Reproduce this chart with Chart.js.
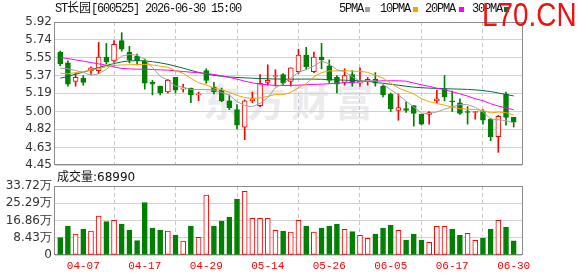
<!DOCTYPE html>
<html><head><meta charset="utf-8">
<script src="https://cdn.jsdelivr.net/npm/chart.js@4/dist/chart.umd.min.js"></script>
<style>
html,body{margin:0;padding:0;background:#fff;width:578px;height:276px;overflow:hidden;}
#wrap{position:relative;width:578px;height:276px;}
canvas{position:absolute;left:0;}
#cPrice{top:0;}
#cVol{top:166px;}
.t{position:absolute;white-space:nowrap;}
.mono{font-family:"Liberation Mono","Noto Sans CJK SC",monospace;font-size:12px;letter-spacing:-1.2px;line-height:14px;color:#111;}
.sq{position:absolute;width:5px;height:5px;top:7px;}
#wm{left:203px;top:72px;font:bold 38px "Noto Sans CJK SC";color:#ebebee;letter-spacing:6px;}
#l70{left:482px;top:-5px;font:34px "Liberation Sans";color:#f01010;transform:scaleX(0.82);transform-origin:0 0;}
#vlab{left:57px;top:170px;font:12px "DejaVu Sans","Noto Sans CJK SC";color:#111;line-height:14px;}
</style></head><body><div id="wrap">
<div class="t" id="wm">东方财富</div>
<canvas id="cPrice" width="578" height="180" style="width:578px;height:180px"></canvas>
<canvas id="cVol" width="578" height="110" style="width:578px;height:110px"></canvas>
<div class="t mono" style="left:55px;top:2px;">ST<span style="letter-spacing:0">长园</span>[600525] 2026-06-30 15:00</div>
<div class="t mono" style="left:339px;top:2px;">5PMA</div><div class="sq" style="left:365px;background:#a0a0a0"></div>
<div class="t mono" style="left:380px;top:2px;">10PMA</div><div class="sq" style="left:413px;background:#f5a300"></div>
<div class="t mono" style="left:425px;top:2px;">20PMA</div><div class="sq" style="left:459px;background:#ff00ff"></div>
<div class="t mono" style="left:472px;top:2px;">30PMA</div><div class="sq" style="left:504px;background:#006f3c"></div>
<div class="t" id="l70">L70.CN</div>
<div class="t" id="vlab">成交量:68990</div>
</div>
<script>
const dates = ['04-01','04-02','04-03','04-07','04-08','04-09','04-10','04-13','04-14','04-15','04-16','04-17','04-20','04-21','04-22','04-23','04-24','04-27','04-28','04-29','04-30',
 '05-06','05-07','05-08','05-11','05-12','05-13','05-14','05-15','05-18','05-19','05-20','05-21','05-22','05-25','05-26','05-27','05-28','05-29',
 '06-01','06-02','06-03','06-04','06-05','06-08','06-09','06-10','06-11','06-12','06-15','06-16','06-17','06-18','06-22','06-23','06-24','06-25','06-26','06-29','06-30'];
const tickDates = ['04-07','04-17','04-29','05-14','05-26','06-05','06-17','06-30'];
const open  = [5.61,5.50,5.31,5.34,5.42,5.42,5.56,5.52,5.73,5.61,5.57,5.52,5.30,5.26,5.20,5.35,5.23,5.24,5.17,5.42,5.25,5.22,5.11,5.02,4.84,5.11,5.06,5.30,5.36,5.38,5.31,5.41,5.58,5.41,5.56,5.47,5.35,5.30,5.38,5.29,5.31,5.33,5.26,5.18,5.01,5.03,5.06,4.97,4.97,5.11,5.23,5.11,5.09,5.00,4.99,5.00,4.92,4.74,5.18,4.94];
const high  = [5.62,5.52,5.39,5.37,5.46,5.71,5.70,5.73,5.81,5.67,5.59,5.54,5.32,5.26,5.33,5.35,5.28,5.24,5.20,5.44,5.30,5.24,5.17,5.07,5.12,5.20,5.38,5.48,5.43,5.39,5.45,5.64,5.66,5.61,5.70,5.53,5.37,5.44,5.42,5.45,5.35,5.40,5.27,5.19,5.18,5.10,5.06,4.97,5.00,5.22,5.37,5.21,5.13,5.05,5.00,5.02,4.93,4.96,5.20,4.94];
const low   = [5.47,5.26,5.26,5.27,5.38,5.39,5.49,5.49,5.62,5.50,5.48,5.23,5.17,5.17,5.19,5.19,5.20,5.09,5.11,5.29,5.18,5.10,5.02,4.82,4.71,5.09,5.05,5.27,5.26,5.27,5.26,5.39,5.43,5.40,5.44,5.29,5.19,5.27,5.26,5.26,5.27,5.26,5.15,5.00,4.91,4.99,4.85,4.86,4.87,5.09,5.11,5.00,4.97,4.87,4.92,4.87,4.70,4.58,4.86,4.84];
const close = [5.49,5.28,5.35,5.30,5.45,5.56,5.51,5.69,5.64,5.53,5.52,5.29,5.28,5.19,5.32,5.22,5.24,5.17,5.18,5.32,5.20,5.11,5.04,4.86,5.11,5.13,5.29,5.32,5.37,5.29,5.45,5.58,5.46,5.56,5.53,5.32,5.28,5.37,5.29,5.31,5.33,5.29,5.17,5.03,5.04,5.01,4.98,4.87,4.99,5.13,5.15,5.10,4.98,4.99,5.00,4.91,4.74,4.95,4.94,4.89];
const volume = [84700,141700,102600,127000,117300,190600,162900,169400,151500,122200,70000,255800,132000,122200,117300,97700,68400,141700,86300,293200,141700,166200,185700,273700,311100,179200,179200,179200,120500,117300,112400,169400,141700,112400,132000,141700,151500,125400,114000,96100,81500,102600,132000,146600,120500,73300,102600,73300,61900,140100,140100,127000,96100,105900,71700,83100,127000,169400,136800,68990];
const ma5  = [5.445,5.439,5.421,5.401,5.373,5.387,5.433,5.501,5.569,5.586,5.579,5.535,5.454,5.363,5.321,5.260,5.250,5.227,5.226,5.225,5.221,5.195,5.168,5.103,5.062,5.048,5.084,5.142,5.245,5.282,5.345,5.403,5.431,5.468,5.516,5.490,5.429,5.410,5.357,5.312,5.314,5.317,5.278,5.224,5.170,5.107,5.045,4.984,4.978,4.996,5.023,5.047,5.072,5.070,5.043,4.996,4.924,4.915,4.906,4.885];
const ma10 = [5.394,5.387,5.400,5.410,5.425,5.440,5.460,5.473,5.478,5.480,5.483,5.484,5.478,5.466,5.454,5.420,5.393,5.341,5.295,5.273,5.241,5.223,5.198,5.165,5.144,5.135,5.140,5.155,5.174,5.172,5.197,5.244,5.287,5.357,5.399,5.418,5.416,5.421,5.413,5.414,5.402,5.373,5.344,5.291,5.241,5.211,5.181,5.131,5.101,5.083,5.065,5.046,5.028,5.024,5.020,5.010,4.986,4.994,4.988,4.964];
const ma20 = [5.555,5.544,5.531,5.517,5.503,5.490,5.476,5.459,5.442,5.438,5.435,5.435,5.432,5.428,5.425,5.418,5.411,5.404,5.398,5.391,5.380,5.367,5.350,5.333,5.312,5.295,5.281,5.275,5.268,5.268,5.268,5.271,5.275,5.278,5.281,5.285,5.292,5.295,5.299,5.305,5.309,5.312,5.316,5.316,5.316,5.312,5.292,5.275,5.258,5.240,5.223,5.203,5.182,5.158,5.131,5.111,5.080,5.056,5.036,5.018];
const ma30 = [5.343,5.360,5.384,5.404,5.428,5.452,5.473,5.493,5.510,5.520,5.524,5.520,5.512,5.500,5.485,5.466,5.445,5.423,5.402,5.385,5.372,5.362,5.355,5.350,5.346,5.342,5.339,5.336,5.334,5.333,5.332,5.333,5.333,5.333,5.331,5.328,5.325,5.322,5.319,5.316,5.310,5.300,5.290,5.280,5.270,5.260,5.250,5.245,5.240,5.237,5.235,5.232,5.230,5.227,5.222,5.215,5.205,5.190,5.175,5.160];
const priceTicks = [4.45,4.63,4.82,5.00,5.19,5.37,5.55,5.74,5.92];
const volTicks = [0,84300,168600,252900,337200];
const volTickLabels = ['0','8.43万','16.86万','25.29万','33.72万'];

const UP = '#ff0000', DOWN = '#008000';
const candleUp = i => close[i] >= open[i];
const volUp = i => i > 0 ? close[i] >= close[i-1] : close[i] >= open[i];
const tickIdx = tickDates.map(d => dates.indexOf(d));
const X_MIN = -0.68, X_MAX = 60.08;

const frame = {
  id: 'frame',
  beforeDatasetsDraw(chart) {
    const { ctx, chartArea: a } = chart;
    ctx.save();
    ctx.strokeStyle = '#8c8c8c';
    ctx.lineWidth = 1;
    ctx.strokeRect(Math.round(a.left) - 0.5, Math.round(a.top) + 0.5, Math.round(a.right - a.left) + 1, Math.round(a.bottom - a.top) - 1);
    ctx.restore();
  }
};

const xAxis = (showLabels) => ({
  type: 'linear', min: X_MIN, max: X_MAX, offset: false,
  afterBuildTicks: s => { s.ticks = tickIdx.map(v => ({ value: v })); },
  afterFit: s => { s.height = showLabels ? 21 : 0; },
  grid: { color: '#c8c8c8', drawTicks: false, lineWidth: 1 },
  border: { display: false, dash: [4, 3] },
  ticks: {
    display: showLabels, autoSkip: false, maxRotation: 0, padding: 4,
    color: '#ff0000', font: { family: 'Liberation Mono', size: 11 },
    callback: v => dates[v]
  }
});

const yTicks = (cb) => ({ autoSkip: false, padding: 3, color: '#333', font: { family: 'DejaVu Sans', size: 12 }, callback: cb });

const pts = arr => arr.map((v, i) => ({ x: i, y: v }));
const lineDs = (arr, color) => ({
  type: 'line', data: pts(arr), borderColor: color, borderWidth: 1,
  pointRadius: 0, tension: 0, order: 0, fill: false
});

Chart.defaults.animation = false;
Chart.defaults.events = [];

new Chart(document.getElementById('cPrice'), {
  type: 'bar',
  data: {
    datasets: [
      lineDs(ma5, '#a0a0a0'),
      lineDs(ma10, '#f5a300'),
      lineDs(ma20, '#ff00ff'),
      lineDs(ma30, '#006f3c'),
      {
        type: 'bar', order: 1, grouped: false,
        data: open.map((o, i) => ({ x: i, y: [o, close[i]] })),
        barThickness: 5, minBarLength: 1, borderSkipped: false, borderWidth: 1,
        backgroundColor: c => candleUp(c.dataIndex) ? '#ffffff' : DOWN,
        borderColor: c => candleUp(c.dataIndex) ? UP : DOWN
      },
      {
        type: 'bar', order: 2, grouped: false,
        data: low.map((l, i) => ({ x: i, y: [l, high[i]] })),
        barThickness: 1, borderWidth: 0,
        backgroundColor: c => candleUp(c.dataIndex) ? UP : DOWN
      }
    ]
  },
  options: {
    responsive: false, maintainAspectRatio: false,
    layout: { padding: { left: 0, right: 56, top: 22, bottom: 15 } },
    plugins: { legend: { display: false }, tooltip: { enabled: false } },
    scales: {
      x: xAxis(false),
      y: {
        min: 4.45, max: 5.92,
        afterBuildTicks: s => { s.ticks = priceTicks.map(v => ({ value: v })); },
        afterFit: s => { s.width = 55; },
        grid: { color: '#d2d2d2', drawTicks: false },
        border: { display: false },
        ticks: yTicks(v => v.toFixed(2))
      }
    }
  },
  plugins: [frame]
});

new Chart(document.getElementById('cVol'), {
  type: 'bar',
  data: {
    datasets: [{
      grouped: false,
      data: volume.map((v, i) => ({ x: i, y: v })),
      barThickness: 5, borderSkipped: false, borderWidth: 1,
      backgroundColor: c => volUp(c.dataIndex) ? '#ffffff' : DOWN,
      borderColor: c => volUp(c.dataIndex) ? UP : DOWN
    }]
  },
  options: {
    responsive: false, maintainAspectRatio: false,
    layout: { padding: { left: 0, right: 56, top: 20, bottom: 0 } },
    plugins: { legend: { display: false }, tooltip: { enabled: false } },
    scales: {
      x: xAxis(true),
      y: {
        min: 0, max: 337200,
        afterBuildTicks: s => { s.ticks = volTicks.map(v => ({ value: v })); },
        afterFit: s => { s.width = 55; },
        grid: { color: '#d2d2d2', drawTicks: false },
        border: { display: false },
        ticks: yTicks((v, i) => volTickLabels[i])
      }
    }
  },
  plugins: [frame]
});
</script>
</body></html>
